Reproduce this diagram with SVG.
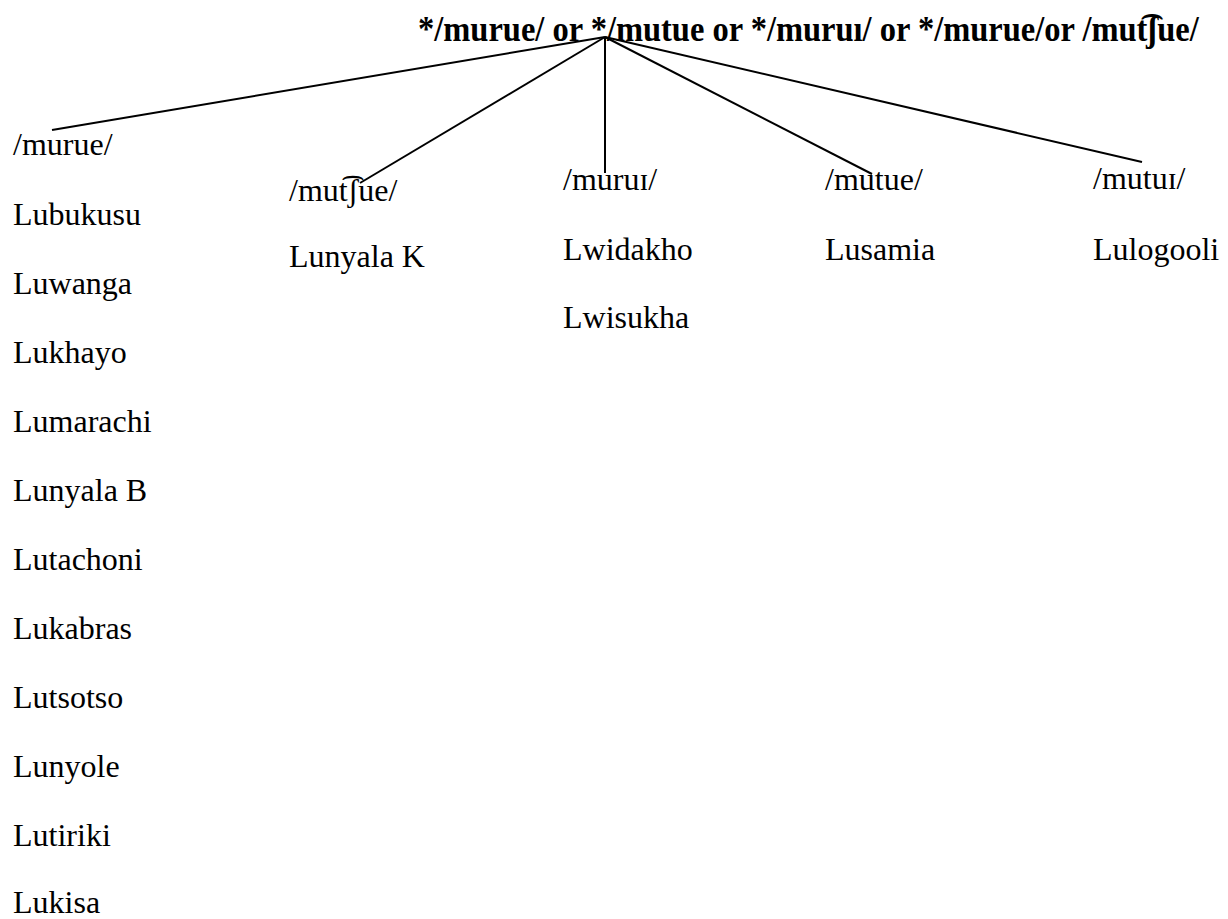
<svg xmlns="http://www.w3.org/2000/svg" width="1228" height="919" viewBox="0 0 1228 919">
  <style>
    text { font-family: "Liberation Serif", "DejaVu Serif", serif; font-size: 32px; fill: #000; }
    .title { font-weight: bold; font-size: 32.5px; }
    .edge { stroke: #000; stroke-width: 2; fill: none; }
  </style>
  <rect width="1228" height="919" fill="#fff"/>

  <g id="root">
    <text class="title" transform="translate(418,41) scale(1,1.07)">*/murue/ or */mutue or */muruı/ or */murue/or /mut͡ʃue/</text>
  </g>

  <g id="connectors">
    <line class="edge" x1="605" y1="37" x2="52" y2="130"/>
    <line class="edge" x1="605" y1="37" x2="360" y2="183"/>
    <line class="edge" x1="605" y1="37" x2="605" y2="173"/>
    <line class="edge" x1="605" y1="37" x2="872" y2="174"/>
    <line class="edge" x1="605" y1="37" x2="1142" y2="162"/>
  </g>

  <g id="murue">
    <text x="13" y="155">/murue/</text>
    <text x="13" y="225">Lubukusu</text>
    <text x="13" y="294">Luwanga</text>
    <text x="13" y="363">Lukhayo</text>
    <text x="13" y="432">Lumarachi</text>
    <text x="13" y="501">Lunyala B</text>
    <text x="13" y="570">Lutachoni</text>
    <text x="13" y="639">Lukabras</text>
    <text x="13" y="708">Lutsotso</text>
    <text x="13" y="777">Lunyole</text>
    <text x="13" y="846">Lutiriki</text>
    <text x="13" y="913">Lukisa</text>
  </g>

  <g id="mutshue">
    <text x="289" y="201">/mut͡ʃue/</text>
    <text x="289" y="267">Lunyala K</text>
  </g>

  <g id="murui">
    <text x="563" y="190">/muruɪ/</text>
    <text x="563" y="260">Lwidakho</text>
    <text x="563" y="328">Lwisukha</text>
  </g>

  <g id="mutue">
    <text x="825" y="190">/mutue/</text>
    <text x="825" y="260">Lusamia</text>
  </g>

  <g id="mutui">
    <text x="1093" y="189">/mutuɪ/</text>
    <text x="1093" y="260">Lulogooli</text>
  </g>
</svg>
